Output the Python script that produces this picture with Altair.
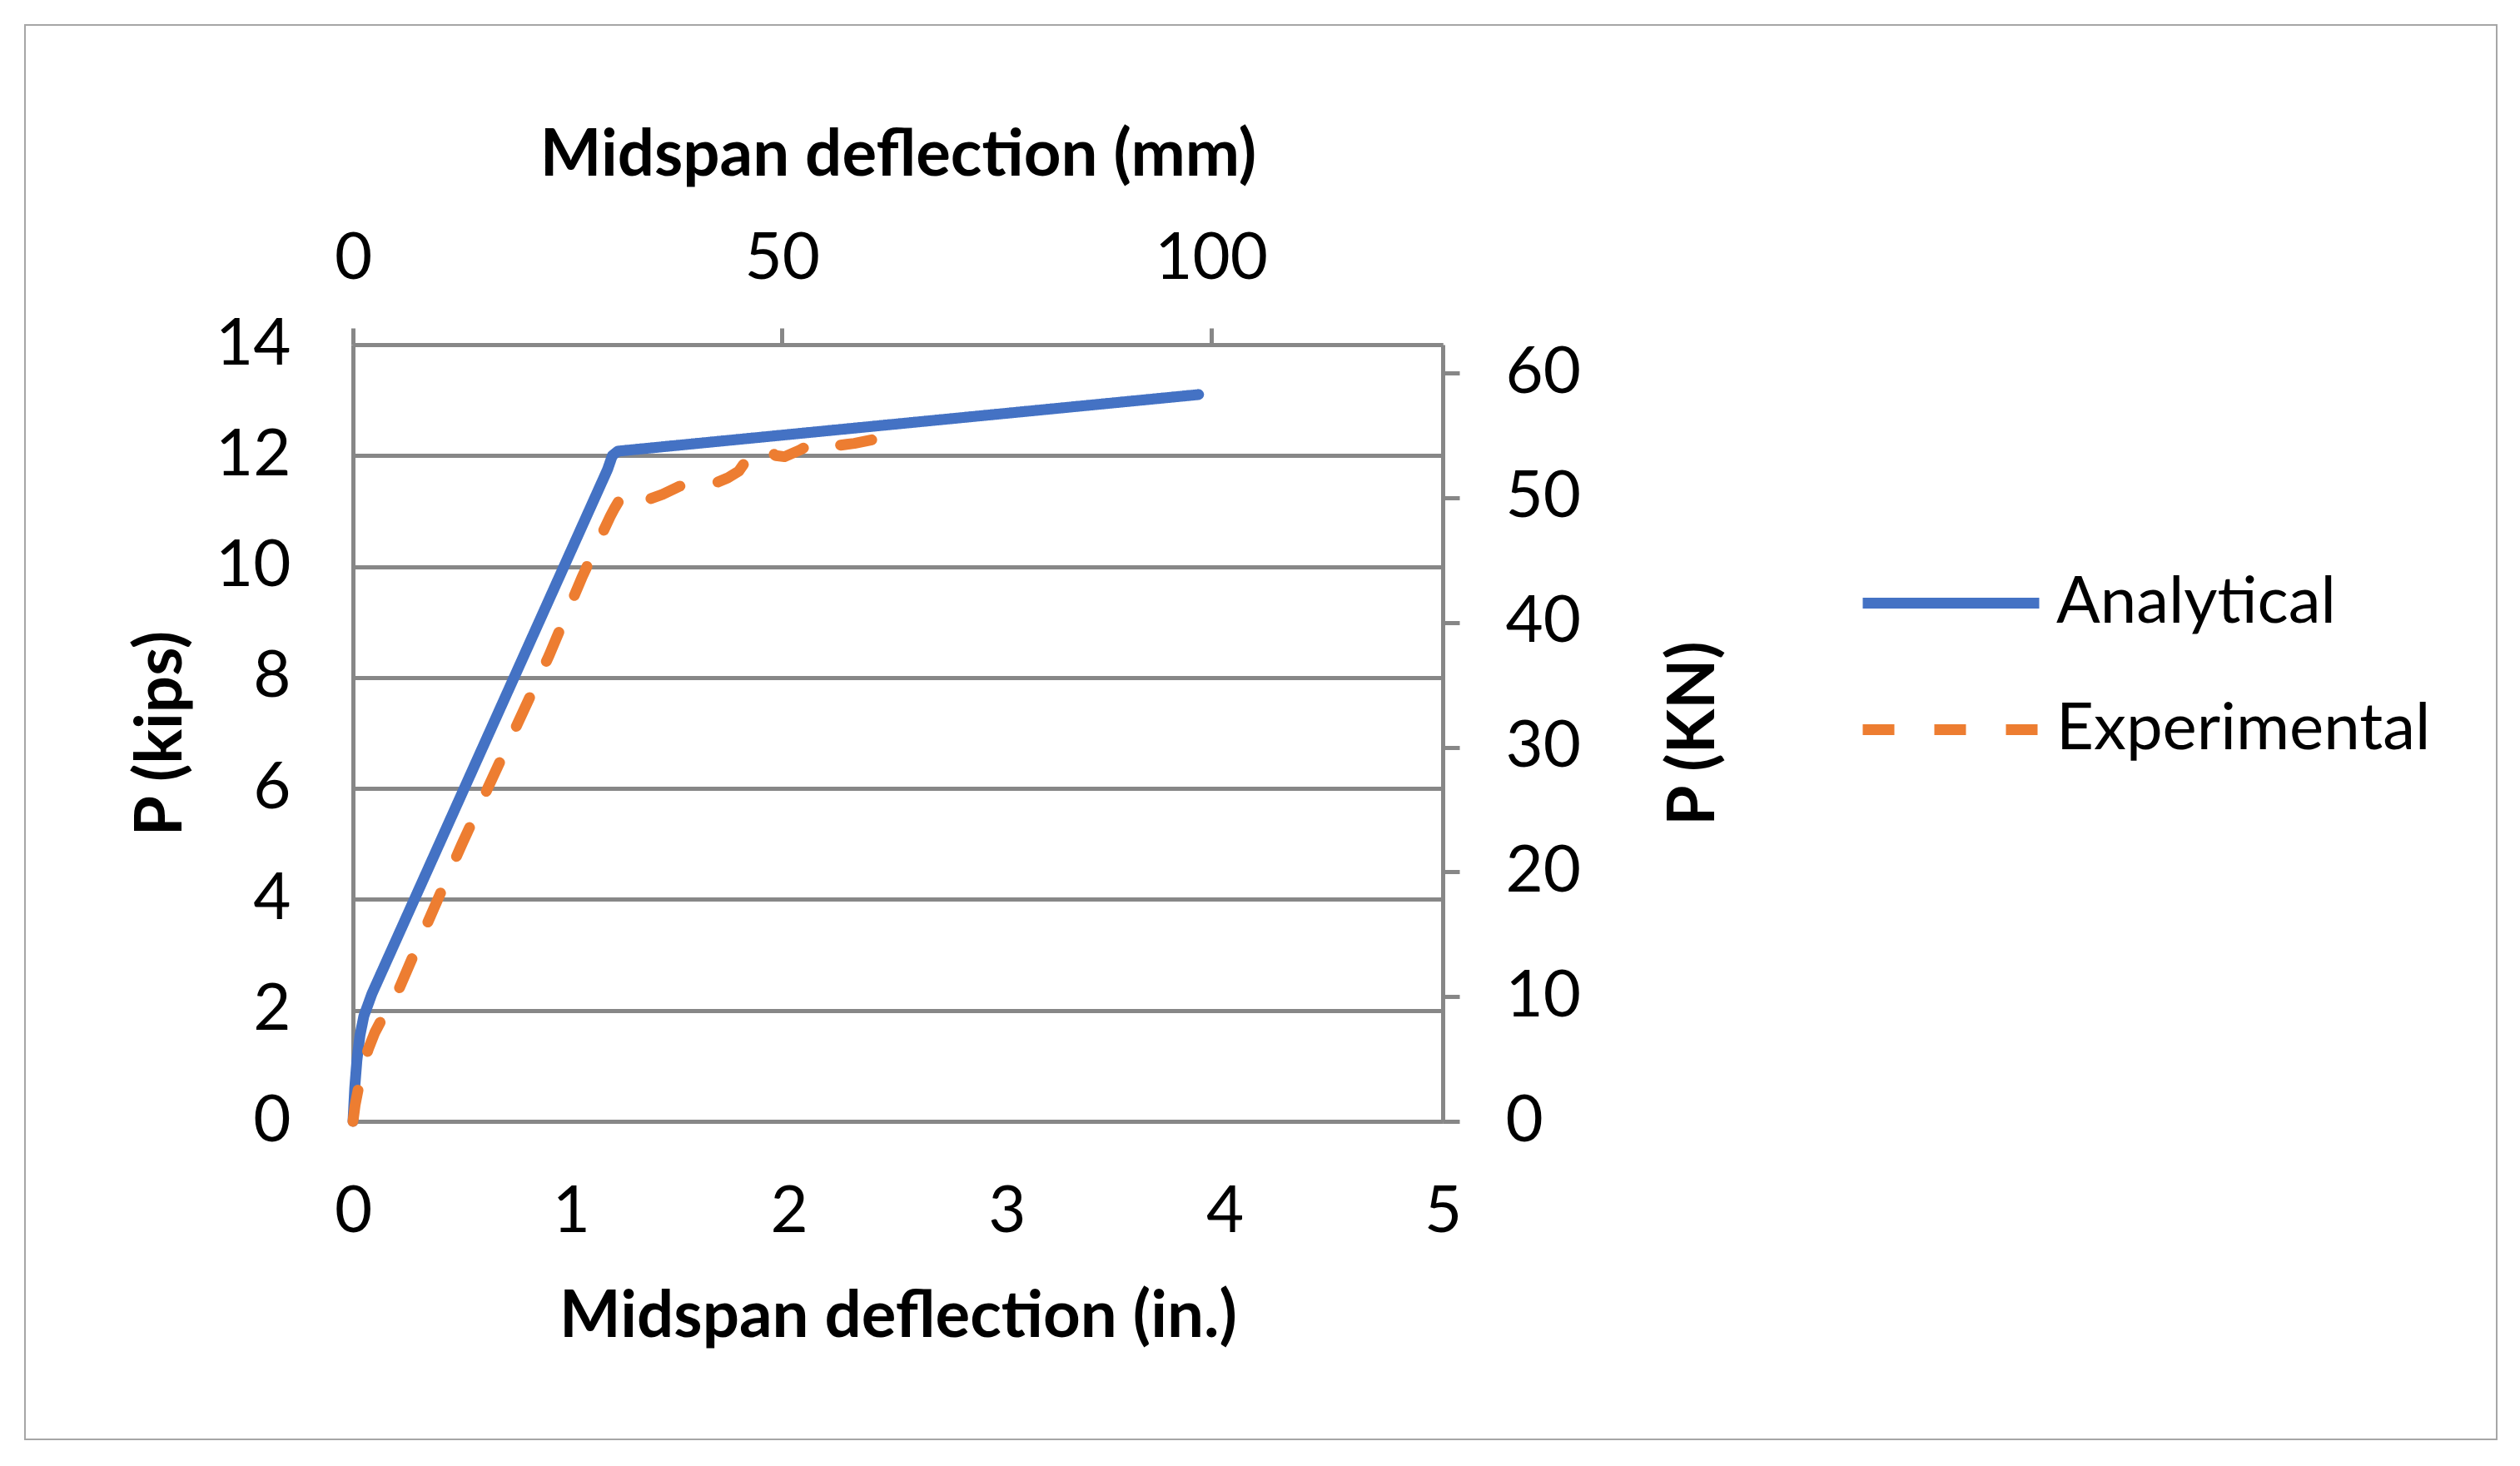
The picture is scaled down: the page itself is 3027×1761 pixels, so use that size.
import altair as alt
import pandas as pd

# ---- data (inches / kips) ----
an_x = [0, 0.008, 0.018, 0.032, 0.05, 0.087, 1.168, 1.19, 1.215, 3.88]
an_y = [0, 0.6, 1.1, 1.55, 1.9, 2.3, 11.75, 12.0, 12.08, 13.1]

ex_x = [0, 0.01, 0.025, 0.04, 0.07, 0.1, 0.14, 0.18, 0.3, 0.5, 0.7, 0.9, 1.05, 1.12,
        1.18, 1.2, 1.23, 1.27, 1.35, 1.42, 1.5, 1.54, 1.6, 1.66, 1.72, 1.77, 1.82,
        1.89, 1.94, 1.98, 2.05, 2.12, 2.19, 2.22, 2.3, 2.4, 2.48, 2.52]
ex_y = [0, 0.3, 0.6, 0.9, 1.3, 1.6, 1.9, 2.1, 3.2, 5.0, 6.7, 8.4, 9.8, 10.4,
        10.9, 11.05, 11.25, 11.1, 11.2, 11.3, 11.45, 11.38, 11.42, 11.5, 11.6, 11.72, 12.0,
        12.15, 12.0, 11.98, 12.1, 12.25, 12.15, 12.18, 12.22, 12.3, 12.36, 12.25]

series_names = ["Analytical", "Experimental"]
series_colors = ["#4472C4", "#ED7D31"]

in_ticks = [0, 1, 2, 3, 4, 5]
kip_ticks = [0, 2, 4, 6, 8, 10, 12, 14]
mm_ticks = [0, 50, 100]
kn_ticks = [0, 10, 20, 30, 40, 50, 60]

IN_MAX = 5
KIP_MAX = 14
MM_MAX = IN_MAX * 25.4
KN_MAX = KIP_MAX * 4.448

df = pd.DataFrame({
    "x": an_x + ex_x,
    "y": an_y + ex_y,
    "series": [series_names[0]] * len(an_x) + [series_names[1]] * len(ex_x),
    "order": list(range(len(an_x))) + list(range(len(ex_x))),
})
sec = pd.DataFrame({"mm": [0, MM_MAX], "kn": [0, KN_MAX]})

FONT = "Lato"
FS = 78
GRID = "#878787"
GW = 5
LW = 13
W, H = 1309, 933

legend = alt.Legend(
    title=None, orient="none", legendX=1807, legendY=198,
    symbolType="stroke", symbolSize=212 ** 2, symbolStrokeWidth=LW,
    labelFont=FONT, labelFontSize=FS, labelColor="black", labelOffset=14,
    labelLimit=2000, rowPadding=-58,
)

main = alt.Chart(df).mark_line(strokeWidth=LW, strokeCap="round", strokeJoin="round").encode(
    x=alt.X("x:Q", scale=alt.Scale(domain=[0, IN_MAX], nice=False),
            axis=alt.Axis(orient="bottom", values=in_ticks, title="Midspan deflection (in.)",
                          grid=False, ticks=False, domainColor=GRID, domainWidth=GW,
                          labelFlush=False, labelPadding=70, titlePadding=48)),
    y=alt.Y("y:Q", scale=alt.Scale(domain=[0, KIP_MAX], nice=False),
            axis=alt.Axis(orient="left", values=kip_ticks, title="P (kips)",
                          grid=True, gridColor=GRID, gridWidth=GW, ticks=False, labelFlush=False,
                          domainColor=GRID, domainWidth=GW, labelPadding=75, titlePadding=25)),
    color=alt.Color("series:N", scale=alt.Scale(domain=series_names, range=series_colors), legend=legend),
    strokeDash=alt.StrokeDash("series:N", scale=alt.Scale(domain=series_names, range=[[1, 0], [38, 48]]), legend=legend),
    order="order:Q",
)

secondary = alt.Chart(sec).mark_point(opacity=0).encode(
    x=alt.X("mm:Q", scale=alt.Scale(domain=[0, MM_MAX], nice=False),
            axis=alt.Axis(orient="top", values=mm_ticks, title="Midspan deflection (mm)",
                          grid=False, ticks=True, tickSize=20, tickColor=GRID, tickWidth=GW,
                          labelFlush=False, domainColor=GRID, domainWidth=GW,
                          labelPadding=44, titlePadding=46)),
    y=alt.Y("kn:Q", scale=alt.Scale(domain=[0, KN_MAX], nice=False),
            axis=alt.Axis(orient="right", values=kn_ticks, title="P (KN)", titleAngle=270,
                          grid=False, ticks=True, tickSize=20, tickColor=GRID, tickWidth=GW,
                          labelFlush=False, domainColor=GRID, domainWidth=GW,
                          labelPadding=55, titlePadding=176)),
)

frame = alt.Chart(pd.DataFrame({"a": [0]})).mark_rect(
    fillOpacity=0, stroke="#a6a6a6", strokeWidth=2
).encode(x=alt.value(-394), x2=alt.value(2575), y=alt.value(-384), y2=alt.value(1315))

chart = alt.layer(main, secondary, frame).resolve_scale(
    x="independent", y="independent", color="independent", strokeDash="independent"
).properties(
    width=W, height=H,
    padding={"left": 21, "top": 21, "right": 0, "bottom": 0},
    background="white",
).configure_axis(
    labelFont=FONT, titleFont=FONT, labelFontSize=FS, titleFontSize=FS,
    labelColor="black", titleColor="black", titleFontWeight="bold", labelFontWeight="normal",
).configure_view(strokeWidth=0)

chart.save("out.html", embed_options={"renderer": "svg", "actions": False})
